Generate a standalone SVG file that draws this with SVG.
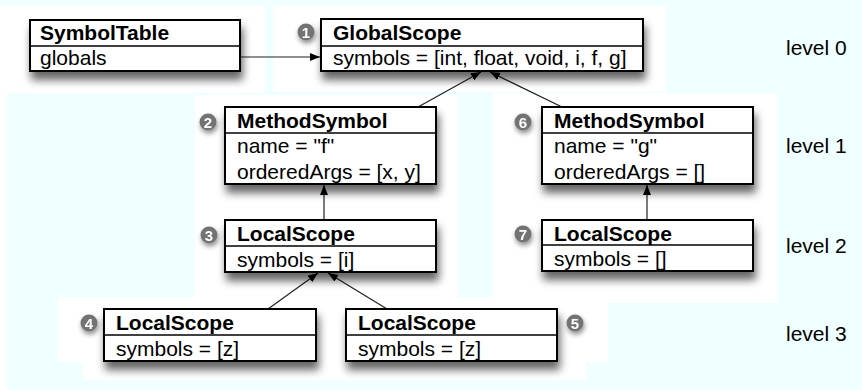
<svg xmlns="http://www.w3.org/2000/svg" width="862" height="390" viewBox="0 0 862 390">
<defs>
<filter id="sh" x="-20%" y="-30%" width="150%" height="190%">
<feDropShadow dx="2" dy="8" stdDeviation="4.5" flood-color="#000" flood-opacity="0.6"/>
</filter>
<filter id="bsh" x="-60%" y="-60%" width="260%" height="260%">
<feDropShadow dx="1" dy="3" stdDeviation="2.5" flood-color="#000" flood-opacity="0.45"/>
</filter>
<marker id="ah" markerUnits="userSpaceOnUse" markerWidth="10" markerHeight="8" refX="10" refY="4" orient="auto">
<path d="M0,0 L10,4 L0,8 z" fill="#000"/>
</marker>
<style>
.box{fill:#fff;stroke:#000;stroke-width:2}
.div{stroke:#000;stroke-width:1.5}
.hd{font-family:"Liberation Sans",Arial,sans-serif;font-size:21px;font-weight:bold;fill:#000}
.tx{font-family:"Liberation Sans",Arial,sans-serif;font-size:21px;fill:#000}
.lv{font-family:"Liberation Sans",Arial,sans-serif;font-size:21px;fill:#000}
.bd circle{fill:#737373}
.bd text{font-family:"Liberation Sans",Arial,sans-serif;font-size:15px;font-weight:bold;fill:#fff;text-anchor:middle}
.cn{stroke:#222;stroke-width:1.2;fill:none;marker-end:url(#ah)}
</style>
</defs>
<rect x="0" y="0" width="862" height="390" fill="#f0ffff"/>
<g id="bg" fill="#fff">
<rect x="0" y="5" width="265" height="88"/>
<rect x="273" y="5" width="393" height="87"/>
<rect x="195" y="95" width="263" height="202"/>
<rect x="493" y="93" width="284" height="210"/>
<rect x="58" y="297" width="550" height="65"/>
<rect x="83" y="362" width="503" height="18"/>
<rect x="0" y="93" width="7" height="297"/>
</g>
<g id="connectors">
<line class="cn" x1="202" y1="57" x2="320" y2="57"/>
<line class="cn" x1="418" y1="107" x2="481" y2="72"/>
<line class="cn" x1="562" y1="107" x2="490" y2="72"/>
<line class="cn" x1="324" y1="220" x2="324" y2="185"/>
<line class="cn" x1="647" y1="220" x2="647" y2="185"/>
<line class="cn" x1="268" y1="309" x2="318" y2="273"/>
<line class="cn" x1="387" y1="309" x2="328" y2="273"/>
</g>
<g id="symboltable">
<rect class="box" x="30" y="20" width="210" height="51" filter="url(#sh)"/>
<line class="div" x1="30" y1="46" x2="240" y2="46"/>
<text class="hd" x="40" y="40">SymbolTable</text>
<text class="tx" x="40" y="65">globals</text>
</g>
<g id="globalscope">
<rect class="box" x="321" y="19" width="322" height="52" filter="url(#sh)"/>
<line class="div" x1="321" y1="46" x2="643" y2="46"/>
<text class="hd" x="333" y="40">GlobalScope</text>
<text class="tx" x="333" y="65">symbols = [int, float, void, i, f, g]</text>
<g class="bd" filter="url(#bsh)"><circle cx="306" cy="32" r="8.5"/><text x="306" y="37.5">1</text></g>
</g>
<g id="methodf">
<rect class="box" x="225" y="107" width="211" height="77" filter="url(#sh)"/>
<line class="div" x1="225" y1="133" x2="436" y2="133"/>
<text class="hd" x="237" y="128">MethodSymbol</text>
<text class="tx" x="237" y="153">name = "f"</text>
<text class="tx" x="237" y="179">orderedArgs = [x, y]</text>
<g class="bd" filter="url(#bsh)"><circle cx="208" cy="122" r="8.5"/><text x="208" y="127.5">2</text></g>
</g>
<g id="methodg">
<rect class="box" x="542" y="107" width="211" height="77" filter="url(#sh)"/>
<line class="div" x1="542" y1="133" x2="753" y2="133"/>
<text class="hd" x="554" y="128">MethodSymbol</text>
<text class="tx" x="554" y="153">name = "g"</text>
<text class="tx" x="554" y="179">orderedArgs = []</text>
<g class="bd" filter="url(#bsh)"><circle cx="523" cy="122" r="8.5"/><text x="523" y="127.5">6</text></g>
</g>
<g id="local3">
<rect class="box" x="225" y="220" width="211" height="52" filter="url(#sh)"/>
<line class="div" x1="225" y1="246" x2="436" y2="246"/>
<text class="hd" x="237" y="241">LocalScope</text>
<text class="tx" x="237" y="267">symbols = [i]</text>
<g class="bd" filter="url(#bsh)"><circle cx="209" cy="235" r="8.5"/><text x="209" y="240.5">3</text></g>
</g>
<g id="local7">
<rect class="box" x="542" y="220" width="211" height="51" filter="url(#sh)"/>
<line class="div" x1="542" y1="245" x2="753" y2="245"/>
<text class="hd" x="554" y="241">LocalScope</text>
<text class="tx" x="554" y="266">symbols = []</text>
<g class="bd" filter="url(#bsh)"><circle cx="523" cy="234" r="8.5"/><text x="523" y="239.5">7</text></g>
</g>
<g id="local4">
<rect class="box" x="104" y="309" width="212" height="52" filter="url(#sh)"/>
<line class="div" x1="104" y1="335" x2="316" y2="335"/>
<text class="hd" x="116" y="330">LocalScope</text>
<text class="tx" x="116" y="356">symbols = [z]</text>
<g class="bd" filter="url(#bsh)"><circle cx="89" cy="323" r="8.5"/><text x="89" y="328.5">4</text></g>
</g>
<g id="local5">
<rect class="box" x="346" y="309" width="211" height="52" filter="url(#sh)"/>
<line class="div" x1="346" y1="335" x2="557" y2="335"/>
<text class="hd" x="358" y="330">LocalScope</text>
<text class="tx" x="358" y="356">symbols = [z]</text>
<g class="bd" filter="url(#bsh)"><circle cx="575" cy="323" r="8.5"/><text x="575" y="328.5">5</text></g>
</g>
<g id="levels">
<text class="lv" x="786" y="55">level 0</text>
<text class="lv" x="786" y="153">level 1</text>
<text class="lv" x="786" y="253">level 2</text>
<text class="lv" x="786" y="341">level 3</text>
</g>
</svg>
